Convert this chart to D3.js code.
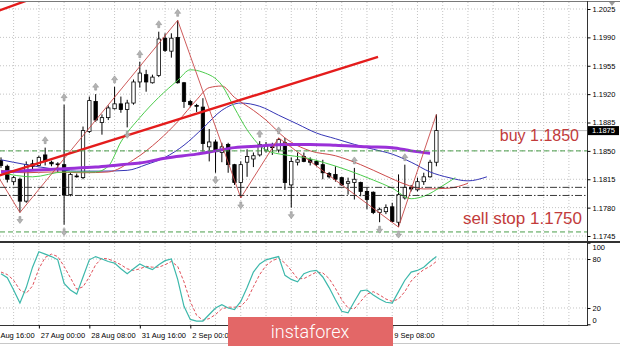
<!DOCTYPE html>
<html>
<head>
<meta charset="utf-8">
<script src="https://cdn.jsdelivr.net/npm/d3@7"></script>
<style>
    html, body { margin: 0; padding: 0; background: #fff; }
    svg { display: block; }
    .axis text { font-family: "Liberation Sans", Arial, sans-serif; font-size: 7.5px; fill: #000; }
    .axis line { stroke: #000; }
    .axis path { display: none; }
</style>
</head>
<body>
<div id="chart"></div>
<script>
// EURUSD H4, 26 Aug - 10 Sep
var barOpen = [1.1838, 1.1831, 1.1812, 1.1815, 1.1788, 1.1834, 1.1832, 1.1845, 1.1836, 1.1833,
    1.1833, 1.1796, 1.1818, 1.1817, 1.1874, 1.1911, 1.1885, 1.1891, 1.1902, 1.1908,
    1.1901, 1.1909, 1.1935, 1.1944, 1.1934, 1.1943, 1.1989, 1.1973, 1.1990, 1.1934,
    1.1911, 1.1906, 1.1904, 1.1855, 1.1861, 1.1848, 1.1858, 1.1833, 1.1811, 1.1836,
    1.1840, 1.1845, 1.1851, 1.1855, 1.1851, 1.1860, 1.1808, 1.1836, 1.1843, 1.1839,
    1.1837, 1.1833, 1.1822, 1.1821, 1.1817, 1.1810, 1.1811, 1.1811, 1.1800, 1.1799,
    1.1774, 1.1775, 1.1781, 1.1762, 1.1792, 1.1805, 1.1802, 1.1812, 1.1818, 1.1836];
var barHigh = [1.1842, 1.1833, 1.1819, 1.1817, 1.1837, 1.1839, 1.1844, 1.1854, 1.1838, 1.1836,
    1.1907, 1.1823, 1.1822, 1.1880, 1.1917, 1.1920, 1.1895, 1.1906, 1.1929, 1.1917,
    1.1913, 1.1938, 1.1960, 1.1950, 1.1944, 1.1997, 1.1995, 1.1995, 1.2011, 1.1935,
    1.1913, 1.1908, 1.1915, 1.1877, 1.1864, 1.1860, 1.1860, 1.1834, 1.1837, 1.1852,
    1.1848, 1.1862, 1.1861, 1.1860, 1.1866, 1.1866, 1.1842, 1.1848, 1.1848, 1.1842,
    1.1839, 1.1839, 1.1824, 1.1831, 1.1818, 1.1817, 1.1829, 1.1812, 1.1805, 1.1800,
    1.1780, 1.1784, 1.1786, 1.1821, 1.1833, 1.1808, 1.1817, 1.1823, 1.1839, 1.1895];
var barLow = [1.1829, 1.1811, 1.1808, 1.1774, 1.1786, 1.1827, 1.1831, 1.1832, 1.1831, 1.1824,
    1.1759, 1.1794, 1.1817, 1.1815, 1.1872, 1.1886, 1.1870, 1.1888, 1.1901, 1.1897,
    1.1879, 1.1907, 1.1928, 1.1923, 1.1933, 1.1941, 1.1972, 1.1965, 1.1933, 1.1903,
    1.1904, 1.1898, 1.1849, 1.1837, 1.1823, 1.1836, 1.1823, 1.1808, 1.1792, 1.1818,
    1.1830, 1.1843, 1.1848, 1.1845, 1.1848, 1.1802, 1.1780, 1.1832, 1.1836, 1.1832,
    1.1831, 1.1815, 1.1816, 1.1812, 1.1807, 1.1796, 1.1790, 1.1794, 1.1778, 1.1772,
    1.1762, 1.1772, 1.1762, 1.1756, 1.1790, 1.1800, 1.1800, 1.1808, 1.1817, 1.1831];
var barClose = [1.1832, 1.1815, 1.1817, 1.1788, 1.1833, 1.1831, 1.1842, 1.1837, 1.1834, 1.1834,
    1.1796, 1.1821, 1.1819, 1.1875, 1.1912, 1.1888, 1.1891, 1.1903, 1.1908, 1.1901,
    1.1909, 1.1935, 1.1946, 1.1935, 1.1941, 1.1988, 1.1974, 1.1989, 1.1934, 1.1911,
    1.1907, 1.1905, 1.1859, 1.1861, 1.1849, 1.1855, 1.1833, 1.1811, 1.1833, 1.1843,
    1.1844, 1.1858, 1.1856, 1.1854, 1.1864, 1.1811, 1.1837, 1.1839, 1.1837, 1.1836,
    1.1833, 1.1823, 1.1818, 1.1815, 1.1808, 1.1812, 1.1815, 1.1800, 1.1790, 1.1774,
    1.1778, 1.1780, 1.1763, 1.1796, 1.1805, 1.1803, 1.1812, 1.1818, 1.1836, 1.1875];

// moving averages (bar index / price)
var purpleIdx = [0, 5, 10, 15, 19, 22, 26, 31, 34, 37, 41, 45, 49, 53, 58, 62, 65, 68];
var purpleMa = [1.1824, 1.1826, 1.1828, 1.1830, 1.1833, 1.1835, 1.1841, 1.1846, 1.1850, 1.1854,
    1.1856, 1.1858, 1.1858, 1.1857, 1.1855, 1.1854, 1.1850, 1.1847];
var jawIdx = [0, 4, 8, 12, 16, 20, 23, 26, 29, 32, 35, 38, 41, 44, 47, 50, 53, 56, 59, 62, 65, 68, 71, 74, 77];
var jawMa = [1.1839, 1.1833, 1.1828, 1.1825, 1.1825, 1.1826, 1.1833, 1.1842, 1.1857, 1.1878,
    1.1900, 1.1909, 1.1905, 1.1894, 1.1883, 1.1872, 1.1865, 1.1858, 1.1852, 1.1846,
    1.1836, 1.1824, 1.1817, 1.1813, 1.1818];
var teethIdx = [0, 4, 8, 13, 17, 21, 25, 28, 31, 33, 35, 37, 40, 42, 45, 49, 53, 57, 61, 64, 67, 71, 74];
var teethMa = [1.1826, 1.1823, 1.1824, 1.1823, 1.1824, 1.1839, 1.1863, 1.1886, 1.1913, 1.1928,
    1.1930, 1.1916, 1.1900, 1.1888, 1.1866, 1.1850, 1.1844, 1.1833, 1.1819, 1.1809,
    1.1803, 1.1804, 1.1810];
var lipsIdx = [0, 5, 10, 15, 17, 19, 22, 25, 28, 30, 32, 35, 37, 39, 42, 45, 48, 51, 55, 59, 62, 65, 67, 70, 72];
var lipsMa = [1.1823, 1.1818, 1.1824, 1.1824, 1.1831, 1.1861, 1.1891, 1.1916, 1.1937, 1.1950,
    1.1947, 1.1931, 1.1903, 1.1876, 1.1851, 1.1845, 1.1842, 1.1836, 1.1826, 1.1814,
    1.1804, 1.1791, 1.1794, 1.1807, 1.1817];

var zigzagIdx = [-3, 3, 28, 38, 44, 63, 69];
var zigzagPrice = [1.1851, 1.1774, 1.2011, 1.1792, 1.1866, 1.1756, 1.1895];

var trendIdx = [-1, 59.75];
var trendPrice = [1.1818, 1.1966];
var trend2Idx = [-1, 5];
var trend2Price = [1.2021, 1.2038];

var fractalUp = [7, 10, 15, 18, 22, 25, 28, 41, 44, 56, 64];
var fractalDown = [3, 10, 20, 34, 38, 46, 60, 63];

var buyLevel = 1.1850;
var sellLevel = 1.1750;
var dashDotLevels = [1.1805, 1.1795];
var lastPrice = 1.1875;

var stochMain = [62, 57, 42, 26, 45, 70, 89, 86, 83, 79,
    50, 42, 37, 58, 79, 83, 80, 77, 75, 68,
    62, 68, 74, 70, 67, 73, 78, 80, 55, 22,
    6, 4, 4, 12, 20, 24, 20, 18, 28, 45,
    64, 74, 79, 81, 83, 60, 55, 52, 62, 65,
    66, 58, 45, 30, 16, 14, 28, 41, 42, 36,
    31, 27, 26, 40, 54, 64, 66, 70, 77, 83];
var stochSignal = [64, 61, 54, 42, 38, 47, 68, 82, 86, 83,
    71, 57, 43, 46, 58, 73, 81, 80, 77, 73,
    68, 66, 68, 71, 70, 70, 73, 77, 71, 52,
    28, 11, 5, 7, 12, 19, 21, 21, 22, 30,
    46, 61, 72, 78, 81, 75, 66, 56, 56, 60,
    64, 63, 56, 44, 30, 20, 19, 28, 37, 40,
    36, 31, 28, 31, 40, 53, 61, 67, 71, 77];

var priceTicks = [1.2025, 1.1990, 1.1955, 1.1920, 1.1885, 1.1850, 1.1815, 1.1780, 1.1745];
var stochTicks = [100, 80, 20, 0];
// labels under the logo (3 Sep, 4 Sep, 8 Sep) are not visible, left out
var timeIdx = [-2, 6, 14, 22, 30, 62];
var timeLabels = ["25 Aug 16:00", "27 Aug 00:00", "28 Aug 08:00", "31 Aug 16:00", "2 Sep 00:00", "9 Sep 08:00"];

function drawChart(element) {
    var W = 620, H = 346;
    var plotRight = 587;
    var mainTop = 2, mainBottom = 241;
    var subTop = 243, subBottom = 325;

    var x = d3.scaleLinear().domain([0, 92]).range([1, 1 + 6.31 * 92]);
    var y = d3.scaleLinear().domain([1.1745, 1.2025]).range([236, 9]);
    var ys = d3.scaleLinear().domain([0, 100]).range([324.3, 242.7]);

    var svg = d3.select(element).append("svg")
        .attr("width", W)
        .attr("height", H);

    var defs = svg.append("defs");
    defs.append("clipPath").attr("id", "clipMain")
        .append("rect").attr("x", 0).attr("y", mainTop).attr("width", plotRight).attr("height", mainBottom - mainTop);
    defs.append("clipPath").attr("id", "clipSub")
        .append("rect").attr("x", 0).attr("y", subTop).attr("width", plotRight).attr("height", subBottom - subTop);

    var main = svg.append("g").attr("clip-path", "url(#clipMain)");
    var sub = svg.append("g").attr("clip-path", "url(#clipSub)");

    // grid
    var gridIdx = d3.range(2, 92, 4);
    main.selectAll(".vgrid").data(gridIdx).enter().append("line")
        .attr("x1", function (d) { return x(d); }).attr("x2", function (d) { return x(d); })
        .attr("y1", mainTop).attr("y2", mainBottom)
        .attr("stroke", "#c4c4c4").attr("stroke-dasharray", "1,2");
    main.selectAll(".hgrid").data(priceTicks).enter().append("line")
        .attr("x1", 0).attr("x2", plotRight)
        .attr("y1", function (d) { return y(d); }).attr("y2", function (d) { return y(d); })
        .attr("stroke", "#c4c4c4").attr("stroke-dasharray", "1,2");
    sub.selectAll(".vgrid").data(gridIdx).enter().append("line")
        .attr("x1", function (d) { return x(d); }).attr("x2", function (d) { return x(d); })
        .attr("y1", subTop).attr("y2", subBottom)
        .attr("stroke", "#c4c4c4").attr("stroke-dasharray", "1,2");
    sub.selectAll(".hgrid").data([80, 20]).enter().append("line")
        .attr("x1", 0).attr("x2", plotRight)
        .attr("y1", function (d) { return ys(d); }).attr("y2", function (d) { return ys(d); })
        .attr("stroke", "#c4c4c4").attr("stroke-dasharray", "1,2");

    // last price line
    main.append("line")
        .attr("x1", 0).attr("x2", plotRight)
        .attr("y1", y(lastPrice)).attr("y2", y(lastPrice))
        .attr("stroke", "#bdbdbd").attr("stroke-width", 1);

    // candles
    var bars = barOpen.map(function (o, i) {
        return { i: i, o: o, h: barHigh[i], l: barLow[i], c: barClose[i] };
    });
    var candle = main.selectAll(".candle").data(bars).enter().append("g").attr("class", "candle");
    candle.append("line")
        .attr("x1", function (d) { return x(d.i); }).attr("x2", function (d) { return x(d.i); })
        .attr("y1", function (d) { return y(d.h); }).attr("y2", function (d) { return y(d.l); })
        .attr("stroke", "#000").attr("stroke-width", 1);
    candle.append("rect")
        .attr("x", function (d) { return x(d.i) - 1.7; })
        .attr("width", 3.4)
        .attr("y", function (d) { return y(Math.max(d.o, d.c)); })
        .attr("height", function (d) { return Math.max(0.6, Math.abs(y(d.o) - y(d.c))); })
        .attr("fill", function (d) { return d.c >= d.o ? "#fff" : "#000"; })
        .attr("stroke", "#000").attr("stroke-width", 0.8);

    // moving averages
    function maLine(idx, vals, color, width) {
        var pts = idx.map(function (d, k) { return [x(d), y(vals[k])]; });
        main.append("path")
            .attr("d", d3.line().curve(d3.curveMonotoneX)(pts))
            .attr("fill", "none").attr("stroke", color).attr("stroke-width", width);
    }
    maLine(jawIdx, jawMa, "#3535b5", 1);
    maLine(teethIdx, teethMa, "#cc4a4a", 1);
    maLine(lipsIdx, lipsMa, "#4ccc4c", 1);
    maLine(purpleIdx, purpleMa, "#9a30d8", 3);

    // zigzag
    var zz = zigzagIdx.map(function (d, k) { return [x(d), y(zigzagPrice[k])]; });
    main.append("path")
        .attr("d", d3.line()(zz))
        .attr("fill", "none").attr("stroke", "#c84848").attr("stroke-width", 0.9);

    // trend lines
    [[trendIdx, trendPrice], [trend2Idx, trend2Price]].forEach(function (t) {
        main.append("line")
            .attr("x1", x(t[0][0])).attr("y1", y(t[1][0]))
            .attr("x2", x(t[0][1])).attr("y2", y(t[1][1]))
            .attr("stroke", "#e41c1c").attr("stroke-width", 2.4);
    });

    // order levels
    [buyLevel, sellLevel].forEach(function (lv) {
        main.append("line")
            .attr("x1", 0).attr("x2", plotRight)
            .attr("y1", y(lv)).attr("y2", y(lv))
            .attr("stroke", "#4a9e4a").attr("stroke-width", 1).attr("stroke-dasharray", "5,3");
    });
    dashDotLevels.forEach(function (lv) {
        main.append("line")
            .attr("x1", 0).attr("x2", plotRight)
            .attr("y1", y(lv)).attr("y2", y(lv))
            .attr("stroke", "#222").attr("stroke-width", 0.9).attr("stroke-dasharray", "7,2,1.5,2");
    });

    // fractals
    main.selectAll(".fup").data(fractalUp).enter().append("path")
        .attr("transform", function (d) { return "translate(" + x(d) + "," + (y(barHigh[d]) - 7) + ")"; })
        .attr("d", "M0,-4L3,0L1,0L1,3L-1,3L-1,0L-3,0Z")
        .attr("fill", "#b4b4b4").attr("stroke", "#8a8a8a").attr("stroke-width", 0.5);
    main.selectAll(".fdn").data(fractalDown).enter().append("path")
        .attr("transform", function (d) { return "translate(" + x(d) + "," + (y(barLow[d]) + 7) + ")"; })
        .attr("d", "M0,4L3,0L1,0L1,-3L-1,-3L-1,0L-3,0Z")
        .attr("fill", "#b4b4b4").attr("stroke", "#8a8a8a").attr("stroke-width", 0.5);

    // captions
    main.append("text")
        .attr("x", 579).attr("y", y(buyLevel) - 10)
        .attr("text-anchor", "end")
        .attr("font-family", "Liberation Sans, Arial, sans-serif").attr("font-size", 16)
        .attr("fill", "#c23b3b")
        .text("buy 1.1850");
    main.append("text")
        .attr("x", 582).attr("y", y(sellLevel) - 8)
        .attr("text-anchor", "end")
        .attr("font-family", "Liberation Sans, Arial, sans-serif").attr("font-size", 17)
        .attr("fill", "#c23b3b")
        .text("sell stop 1.1750");

    // stochastic
    var stLine = d3.line()
        .x(function (d, i) { return x(i); })
        .y(function (d) { return ys(d); });
    sub.append("path").attr("d", stLine(stochSignal))
        .attr("fill", "none").attr("stroke", "#e0505a").attr("stroke-width", 1).attr("stroke-dasharray", "3,2");
    sub.append("path").attr("d", stLine(stochMain))
        .attr("fill", "none").attr("stroke", "#3db8ab").attr("stroke-width", 1.2);

    // frame
    svg.append("line").attr("x1", 0).attr("x2", W).attr("y1", 1.5).attr("y2", 1.5)
        .attr("stroke", "#7a7a7a");
    svg.append("line").attr("x1", 0).attr("x2", W).attr("y1", 242).attr("y2", 242)
        .attr("stroke", "#333").attr("stroke-width", 2);
    svg.append("line").attr("x1", 0).attr("x2", plotRight + 1).attr("y1", subBottom + 0.5).attr("y2", subBottom + 0.5)
        .attr("stroke", "#333");
    svg.append("line").attr("x1", plotRight + 0.5).attr("x2", plotRight + 0.5).attr("y1", 1).attr("y2", subBottom + 1)
        .attr("stroke", "#333");
    svg.append("line").attr("x1", 0).attr("x2", W).attr("y1", 343.5).attr("y2", 343.5)
        .attr("stroke", "#c8c8c8");

    // axes
    svg.append("g").attr("class", "axis")
        .attr("transform", "translate(" + (plotRight + 0.5) + ",0)")
        .call(d3.axisRight(y).tickValues(priceTicks).tickSize(3).tickPadding(2).tickFormat(d3.format(".4f")));

    var stAxis = svg.append("g").attr("class", "axis")
        .attr("transform", "translate(" + (plotRight + 0.5) + ",0)")
        .call(d3.axisRight(ys).tickValues(stochTicks).tickSize(3).tickPadding(2).tickFormat(d3.format("d")));
    stAxis.selectAll(".tick text")
        .attr("transform", function (d) { return d === 100 ? "translate(0,4)" : (d === 0 ? "translate(0,-4)" : null); });

    var tAxis = svg.append("g").attr("class", "axis")
        .attr("transform", "translate(0," + (subBottom + 0.5) + ")")
        .call(d3.axisBottom(x).tickValues(timeIdx).tickSize(3).tickPadding(4)
            .tickFormat(function (d, i) { return timeLabels[i]; }));
    tAxis.selectAll(".tick text").attr("text-anchor", "start").attr("dx", 1.5);

    // last price box
    svg.append("rect")
        .attr("x", plotRight + 1).attr("y", y(lastPrice) - 4.5)
        .attr("width", W - plotRight - 2).attr("height", 9)
        .attr("fill", "#000");
    svg.append("text")
        .attr("x", plotRight + 5).attr("y", y(lastPrice) + 2.8)
        .attr("font-family", "Liberation Sans, Arial, sans-serif").attr("font-size", 7.5)
        .attr("fill", "#fff")
        .text(d3.format(".4f")(lastPrice));

    // chart shift marker
    svg.append("path").attr("d", "M609,2L615,2L612,6Z").attr("fill", "#9a9a9a");

    // logo
    svg.append("rect")
        .attr("x", 228).attr("y", 317).attr("width", 165).attr("height", 29)
        .attr("fill", "#e36767");
    svg.append("text")
        .attr("x", 310).attr("y", 338)
        .attr("text-anchor", "middle")
        .attr("font-family", "Roboto, 'Open Sans', sans-serif").attr("font-weight", 300)
        .attr("font-size", 18)
        .attr("fill", "#fff")
        .text("instaforex");
}

drawChart(document.getElementById("chart"));
</script>
</body>
</html>
